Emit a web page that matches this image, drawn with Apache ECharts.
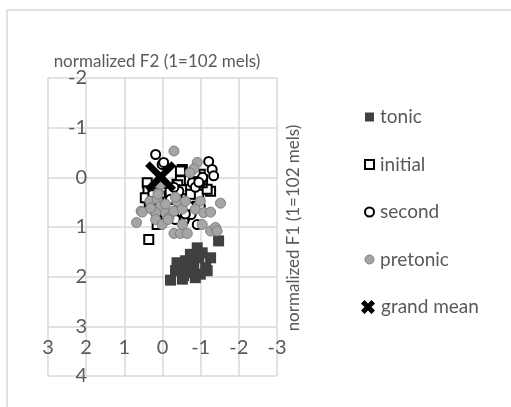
<!DOCTYPE html>
<html>
<head>
<meta charset="utf-8">
<script src="https://cdn.jsdelivr.net/npm/echarts@6/dist/echarts.min.js"></script>
<style>
  html, body { margin: 0; padding: 0; background: #fff; }
  #chart { width: 511px; height: 407px; }
</style>
</head>
<body>
<div id="chart"></div>
<script>
// Normalized vowel formants: [F2, F1] in units of 102 mels
const tonic = [[-1.47,1.28],[-0.91,1.42],[-1.04,1.52],[-1.26,1.62],[-0.73,1.55],[-0.38,1.72],[-0.60,1.68],[-0.82,1.75],[-1.13,1.82],[-0.47,1.88],[-0.73,1.92],[-0.99,1.95],[-0.21,2.07],[-0.52,2.05],[-0.86,2.02],[-1.17,1.88],[-0.65,1.78],[-0.34,1.88],[-0.95,1.62],[-0.55,1.98]];
const initial = [[0.36,1.25],[0.40,0.11],[0.40,0.41],[-0.52,-0.16],[-0.99,-0.06],[-1.26,0.28],[-0.95,0.34],[-0.73,0.34],[-0.38,0.24],[0.23,0.61],[0.14,0.95],[-0.91,0.58],[-0.52,0.04],[-0.17,0.38],[-0.99,0.07],[-1.17,0.24],[0.38,0.27],[-0.14,0.22],[-0.38,0.14],[-0.68,0.06],[-0.82,0.02],[-0.30,0.78],[-0.60,0.58],[0.10,0.70],[-0.05,0.48],[0.45,0.41],[0.18,0.31],[-0.47,-0.13],[-0.47,0.07],[-1.04,0.11],[-0.38,0.44],[-0.40,0.15],[-0.50,0.25],[-0.90,0.00],[-1.05,0.05],[0.25,0.35],[-0.05,0.30],[-0.20,0.30]];
const second = [[0.18,-0.46],[0.01,-0.26],[-1.21,-0.32],[-1.30,-0.16],[-1.34,-0.03],[-0.91,0.04],[-0.99,0.11],[-0.78,0.11],[-0.43,0.28],[-0.34,0.85],[-0.91,0.95],[-0.60,0.81],[-0.99,0.58],[-0.08,0.78],[0.23,0.64],[-0.69,0.58],[-0.21,0.44],[0.31,0.48],[-0.86,-0.09],[-0.86,0.20],[-0.25,0.62],[-0.50,0.70],[-0.40,0.45],[0.05,0.35],[-1.05,0.00],[-0.75,0.75],[-0.03,-0.30],[-0.30,0.20],[-0.95,0.10],[0.10,0.45],[0.35,0.55],[-0.56,0.88],[-0.60,0.74],[0.31,0.58],[0.18,0.71]];
const pretonic = [[-0.30,-0.53],[-0.91,-0.30],[-0.82,-0.17],[-0.72,-0.09],[-1.52,0.52],[0.33,0.48],[0.56,0.68],[0.68,0.91],[0.14,0.44],[0.05,0.58],[0.18,0.71],[0.10,0.31],[-0.08,0.71],[0.18,0.85],[0.01,0.95],[-0.17,0.81],[-0.30,0.68],[-0.52,0.64],[-0.38,0.48],[-0.60,0.48],[-0.86,0.64],[-1.08,0.71],[-1.26,0.70],[-1.04,0.95],[-1.26,1.08],[-1.39,1.01],[-1.43,1.08],[-0.30,1.13],[-0.47,1.13],[-0.65,1.13],[-0.52,0.95],[-0.08,0.54],[0.05,0.14],[-0.99,0.48],[0.12,0.34],[-0.15,0.85],[0.53,0.70],[0.31,0.62],[-0.34,0.40]];
const grandMean = [[0.05,-0.01]];

const xTitle = 'normalized F2 (1=102 mels)';
const yTitle = 'normalized F1 (1=102 mels)';

const TEXT = '#595959';
const GRID = '#d9d9d9';
const FONT = 'Lato';
// bold X marker; the legend uses a chunkier variant so it reads at small size
const CROSS = 'path://M1.5,0 L5,3.5 L8.5,0 L10,1.5 L6.5,5 L10,8.5 L8.5,10 L5,6.5 L1.5,10 L0,8.5 L3.5,5 L0,1.5 Z';
const CROSS_ICON = 'path://M2.5,0 L5,2.5 L7.5,0 L10,2.5 L7.5,5 L10,7.5 L7.5,10 L5,7.5 L2.5,10 L0,7.5 L2.5,5 L0,2.5 Z';

const legendText = { color: TEXT, fontSize: 19, fontFamily: FONT, lineHeight: 20, padding: [0, 0, 0, 1] };

const chart = echarts.init(document.getElementById('chart'), null, { renderer: 'canvas' });

chart.setOption({
  animation: false,
  backgroundColor: '#fff',
  textStyle: { fontFamily: FONT },
  grid: { left: 48, top: 78, width: 229, height: 298 },
  xAxis: {
    type: 'value', min: -3, max: 3, interval: 1, inverse: true,
    axisLine: { show: false }, axisTick: { show: false },
    splitLine: { show: true, showMinLine: true, showMaxLine: true, lineStyle: { color: GRID, width: 1.5 } },
    axisLabel: { color: TEXT, fontSize: 20, fontFamily: FONT, margin: -38, showMinLabel: true, showMaxLabel: true }
  },
  yAxis: {
    type: 'value', min: -2, max: 4, interval: 1, inverse: true,
    axisLine: { show: false }, axisTick: { show: false },
    splitLine: { show: true, showMinLine: true, showMaxLine: true, lineStyle: { color: GRID, width: 1.5 } },
    axisLabel: { color: TEXT, fontSize: 20, fontFamily: FONT, margin: -39, showMinLabel: true, showMaxLabel: true }
  },
  legend: [
    {
      orient: 'vertical', left: 359, top: 102,
      itemWidth: 9, itemHeight: 9, itemGap: 27.5,
      textStyle: legendText,
      data: [
        { name: 'tonic', icon: 'rect', itemStyle: { color: '#404040', borderWidth: 0 } },
        { name: 'initial', icon: 'rect', itemStyle: { color: '#fff', borderColor: '#000', borderWidth: 2 } },
        { name: 'second', icon: 'circle', itemStyle: { color: '#fff', borderColor: '#000', borderWidth: 2 } },
        { name: 'pretonic', icon: 'circle', itemStyle: { color: '#a5a5a5', borderColor: '#7f7f7f', borderWidth: 1 } }
      ]
    },
    {
      orient: 'vertical', left: 356, top: 292,
      itemWidth: 14, itemHeight: 14,
      textStyle: legendText,
      data: [ { name: 'grand mean', icon: CROSS_ICON, itemStyle: { color: '#000' } } ]
    }
  ],
  graphic: [
    { type: 'rect', shape: { x: 7, y: 10, width: 520, height: 420 }, style: { fill: 'none', stroke: GRID, lineWidth: 1.5 }, silent: true },
    { type: 'text', x: 157, y: 62, style: { text: xTitle, fill: TEXT, font: '17px ' + FONT, textAlign: 'center', textVerticalAlign: 'middle' } },
    { type: 'text', x: 294, y: 228, rotation: Math.PI / 2, style: { text: yTitle, fill: TEXT, font: '17px ' + FONT, textAlign: 'center', textVerticalAlign: 'middle' } }
  ],
  series: [
    { name: 'tonic', type: 'scatter', data: tonic, symbol: 'rect', symbolSize: 11,
      itemStyle: { color: '#404040', opacity: 1 } },
    { name: 'initial', type: 'scatter', data: initial, symbol: 'rect', symbolSize: 9,
      itemStyle: { color: '#fff', borderColor: '#000', borderWidth: 2, opacity: 1 } },
    { name: 'second', type: 'scatter', data: second, symbol: 'circle', symbolSize: 9,
      itemStyle: { color: '#fff', borderColor: '#000', borderWidth: 2, opacity: 1 } },
    { name: 'pretonic', type: 'scatter', data: pretonic, symbol: 'circle', symbolSize: 10,
      itemStyle: { color: '#a5a5a5', borderColor: '#7f7f7f', borderWidth: 1, opacity: 1 } },
    { name: 'grand mean', type: 'scatter', data: grandMean, symbol: CROSS, symbolSize: 31,
      itemStyle: { color: '#000', opacity: 1 } }
  ]
});
</script>
</body>
</html>
